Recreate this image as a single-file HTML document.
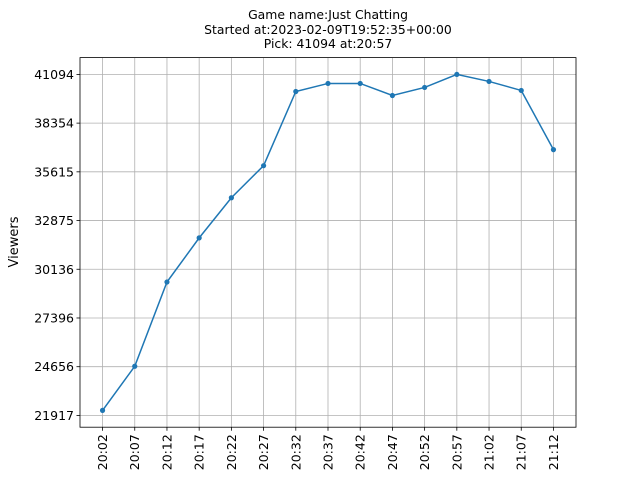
<!DOCTYPE html>
<html><head><meta charset="utf-8"><style>
body{margin:0;background:#fff;}
svg text{font-family:"DejaVu Sans","Liberation Sans",sans-serif;fill:#000;}
</style></head><body>
<svg id="chart" width="640" height="480">
<rect width="640" height="480" fill="#fff"/>
<g id="title">
<text x="328" y="19" font-size="12.4" text-anchor="middle">Game name:Just Chatting</text>
<text x="328" y="34" font-size="12.4" text-anchor="middle">Started at:2023-02-09T19:52:35+00:00</text>
<text x="328" y="48" font-size="12.4" text-anchor="middle">Pick: 41094 at:20:57</text>
</g>
<g id="grid"></g>
<g id="ticks"></g>
<g id="series"></g>
<rect x="80" y="57.6" width="496" height="369.6" fill="none" stroke="#000" stroke-width="0.8"/>
<text x="18" y="242" font-size="13" text-anchor="middle" transform="rotate(-90 18 242)">Viewers</text>
</svg>
<script>
const categories=["20:02","20:07","20:12","20:17","20:22","20:27","20:32","20:37","20:42","20:47","20:52","20:57","21:02","21:07","21:12"];
const viewers=[22199,24681,29418,31900,34156,35961,40134,40585,40585,39908,40360,41094,40698,40191,36863];
const yTicks=[21917,24656,27396,30136,32875,35615,38354,41094];
const L=80,R=576,T=57.6,B=427.2;
const ymin=21254,ymax=42039;
const xs=i=>L+(i+0.7)/(categories.length-1+1.4)*(R-L);
const ys=v=>B-(v-ymin)/(ymax-ymin)*(B-T);
const NS="http://www.w3.org/2000/svg";
function mk(tag,attrs,parent){const e=document.createElementNS(NS,tag);for(const k in attrs)e.setAttribute(k,attrs[k]);parent.appendChild(e);return e;}
const grid=document.getElementById('grid'),ticks=document.getElementById('ticks'),ser=document.getElementById('series');
categories.forEach((c,i)=>{
 const x=xs(i);
 const g=mk('line',{x1:x,x2:x,y1:T,y2:B,stroke:'#b0b0b0','stroke-width':0.8},grid);
 
 
 mk('line',{x1:x,x2:x,y1:B,y2:B+3.5,stroke:'#000','stroke-width':0.8},ticks);
 const t=mk('text',{x:x+4.5,y:B+7,'font-size':12.5,'text-anchor':'end',transform:`rotate(-90 ${x+4.5} ${B+7})`},ticks);
 t.textContent=c;
 
 
});
yTicks.forEach(v=>{
 const y=ys(v);
 const g=mk('line',{x1:L,x2:R,y1:y,y2:y,stroke:'#b0b0b0','stroke-width':0.8},grid);
 
 
 mk('line',{x1:L-3.5,x2:L,y1:y,y2:y,stroke:'#000','stroke-width':0.8},ticks);
 const t=mk('text',{x:L-6,y:y+4.5,'font-size':12.5,'text-anchor':'end'},ticks);
 t.textContent=v;
 
 
});
const pts=viewers.map((v,i)=>xs(i)+','+ys(v)).join(' ');
const line=mk('polyline',{points:pts,fill:'none',stroke:'#1f77b4','stroke-width':1.5},ser);


viewers.forEach((v,i)=>{
 const c=mk('circle',{cx:xs(i),cy:ys(v),r:2.6,fill:'#1f77b4'},ser);
 
 
});
</script>
</body></html>
